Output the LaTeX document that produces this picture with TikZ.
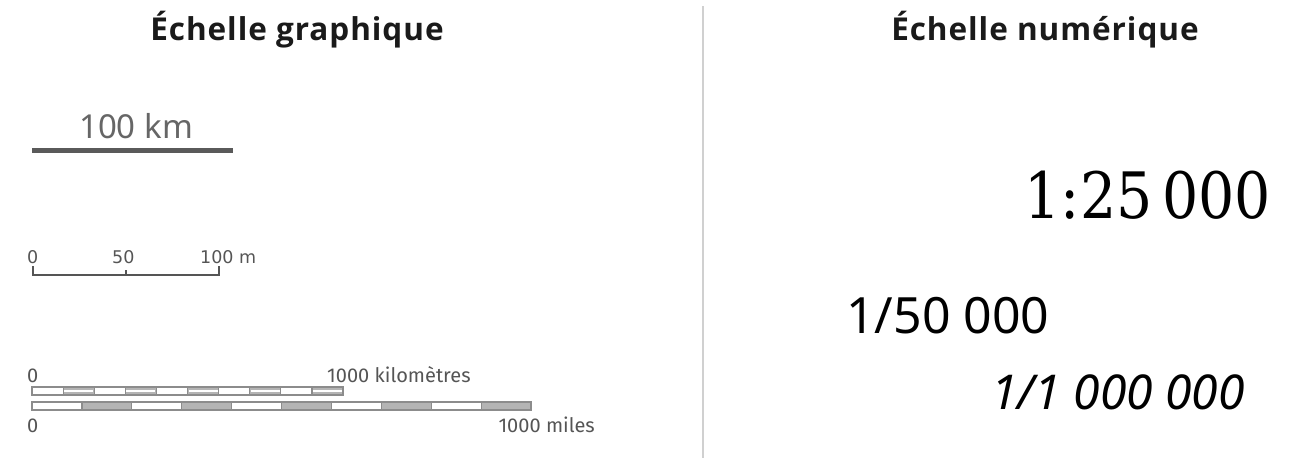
\documentclass[tikz,border=0pt]{standalone}
\usepackage{fontspec}
\setmainfont{Fira Sans}
\newfontfamily\titlefont[LetterSpace=3]{Open Sans}
\newfontfamily\numfont{Noto Sans}
\newfontfamily\slabfont{DejaVu Serif}
\newfontfamily\dvfont{DejaVu Sans}
\definecolor{titlec}{HTML}{1A1A1A}
\definecolor{scalec}{HTML}{555555}
\definecolor{kmc}{HTML}{666666}
\definecolor{barc}{HTML}{5A5A5A}
\definecolor{edgec}{HTML}{8C8C8C}
\definecolor{greyseg}{HTML}{B4B4B4}
\definecolor{divc}{HTML}{D0D0D0}
\begin{document}
\begin{tikzpicture}[x=1pt,y=-1pt,
  title/.style={font=\titlefont\fontsize{31.5}{33}\selectfont\bfseries, text=titlec, inner sep=0pt},
  small/.style={font=\dvfont\fontsize{17.5}{19}\selectfont, text=scalec, inner sep=0pt, anchor=base west},
  bartext/.style={font=\fontsize{20}{22}\selectfont, text=scalec, inner sep=0pt, anchor=base west},
  whiteseg/.style={draw=edgec, line width=1.2pt, fill=white},
  greysegk/.style={draw=edgec, line width=1.2pt, fill=greyseg},
  greysegm/.style={draw=edgec, line width=1.2pt, fill=greyseg}]
\useasboundingbox[fill=white] (0,0) rectangle (1296,466);
% divider
\coordinate (dtop) at (703,6);
\coordinate (dbot) at (703,458);
\draw[divc, line width=2pt] (dtop) -- (dbot);
% titles
\node[title] (t1) at (297,30) {Échelle graphique};
\node[title] (t2) at (1045,30) {Échelle numérique};
% 100 km bar
\node[font=\numfont\fontsize{33}{36}\selectfont, text=kmc, inner sep=0pt, anchor=base west] (km) at (79,138) {100 km};
\coordinate (kb1) at (32,150.5);
\coordinate (kb2) at (233,150.5);
\draw[barc, line width=5.5pt] (kb1) -- (kb2);
% 0 50 100 m
\node[small] (m0) at (27,263) {0};
\node[small] (m50) at (112,263) {50};
\node[small] (m100) at (200,263) {100 m};
\coordinate (ma) at (33,266);
\coordinate (mb) at (33,275);
\coordinate (mc) at (219,275);
\coordinate (md) at (219,266);
\coordinate (me) at (126,270);
\coordinate (mf) at (126,275);
\draw[scalec, line width=1.5pt] (ma) -- (mb) -- (mc) -- (md);
\draw[scalec, line width=1.2pt] (me) -- (mf);
% km bar
\foreach \i in {0,...,9}{
  \pgfmathsetmacro{\xa}{32+31.1*\i}
  \pgfmathsetmacro{\xb}{32+31.1*(\i+1)}
  \ifodd\i
    \draw[greysegk] (\xa,387) rectangle (\xb,395);
    \draw[white, line width=1.2pt] (\xa+1,391) -- (\xb-1,391);
  \else
    \draw[whiteseg] (\xa,387) rectangle (\xb,395);
  \fi
}
\node[bartext] (k0) at (27,382) {0};
\node[bartext] (k1) at (327,382) {1000 kilomètres};
% miles bar
\foreach \i in {0,...,9}{
  \pgfmathsetmacro{\xa}{32+49.9*\i}
  \pgfmathsetmacro{\xb}{32+49.9*(\i+1)}
  \ifodd\i
    \draw[greysegm] (\xa,402) rectangle (\xb,410);
  \else
    \draw[whiteseg] (\xa,402) rectangle (\xb,410);
  \fi
}
\node[bartext] (mi0) at (27,432) {0};
\node[bartext, anchor=base east] (mi1) at (595,432) {1000 miles};
% numeric scales
\node[font=\slabfont\fontsize{64}{70}\selectfont, inner sep=0pt, anchor=base east] (n1) at (1271,218) {\scalebox{0.89}[1]{1:25\,000}};
\node[font=\numfont\fontsize{50}{56}\selectfont, inner sep=0pt, anchor=base west] (n2) at (846,333) {1/50 000};
\node[font=\numfont\itshape\fontsize{48}{54}\selectfont, inner sep=0pt, anchor=base east] (n3) at (1245,409) {1/1 000 000};
\end{tikzpicture}
\end{document}
